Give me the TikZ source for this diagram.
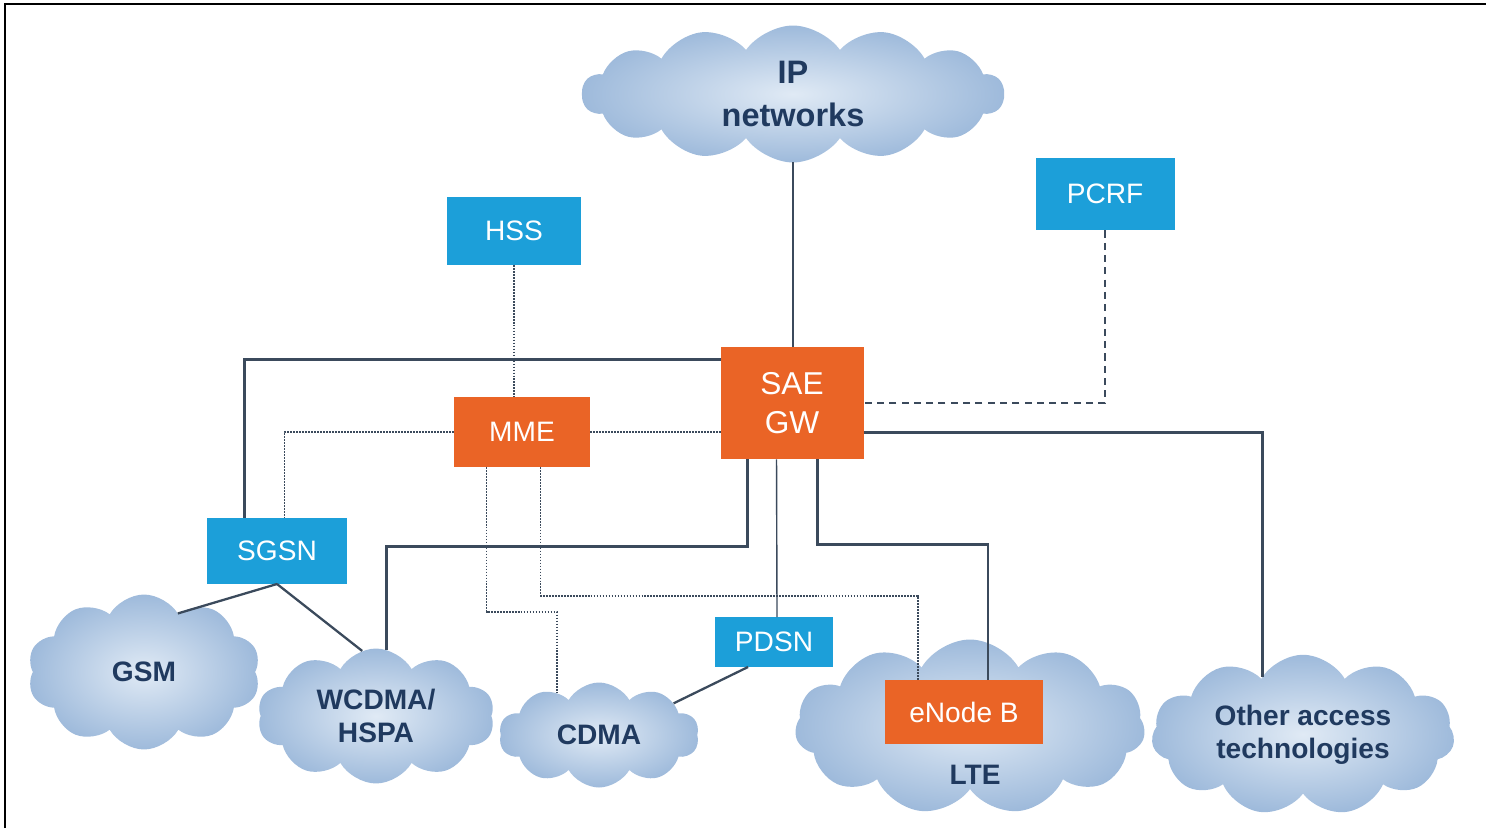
\documentclass[tikz,border=0pt]{standalone}
\usepackage{fontspec}
\setmainfont{Liberation Sans}
\usetikzlibrary{shapes.symbols, calc}
\definecolor{boxblue}{HTML}{1C9FD9}
\definecolor{boxorange}{HTML}{EA6426}
\definecolor{wire}{HTML}{3B4A5C}
\definecolor{cloudtext}{HTML}{203A5F}
\definecolor{cloudin}{HTML}{E0EAF5}
\definecolor{cloudout}{HTML}{9EBADB}
\tikzstyle{server} = [rectangle, fill=boxblue, text=white, inner sep=0pt, outer sep=0pt, font=\fontsize{16}{19}\selectfont]
\tikzstyle{core} = [rectangle, fill=boxorange, text=white, align=center, inner sep=0pt, outer sep=0pt, font=\fontsize{16}{19}\selectfont]
\tikzstyle{access} = [cloud, cloud puffs=10, cloud puff arc=120, inner color=cloudin, outer color=cloudout, text=cloudtext, align=center, inner sep=0pt, outer sep=0pt, font=\bfseries\fontsize{16}{19}\selectfont]
\tikzstyle{link} = [draw=wire, line width=1.3pt]
\tikzstyle{signal} = [draw=wire, line width=0.9pt, dash pattern=on 1pt off 0.7pt]
\tikzstyle{policy} = [draw=wire, line width=1pt, dash pattern=on 4pt off 3pt]

\begin{document}
\begin{tikzpicture}[x=0.02cm, y=-0.02cm]
\useasboundingbox (0,0) rectangle (1486,828);
\draw [line width=1.7pt] (5,828) -- (5,4) -- (1486,4);

% access networks
\node (ip) [access, cloud puffs=14, cloud puff arc=110, aspect=3.1, minimum width=8.44cm, minimum height=2.74cm, font=\bfseries\fontsize{18.5}{24}\selectfont] at (793,94)
	{IP\\networks};
\node (gsm) [access, aspect=1.5, minimum width=4.66cm, minimum height=3.1cm] at (144,672)
	{GSM};
\node (wcdma) [access, aspect=1.75, minimum width=4.74cm, minimum height=2.7cm] at (376,716)
	{WCDMA/\\HSPA};
\node (cdma) [access, aspect=1.9, minimum width=4cm, minimum height=2.1cm] at (599,735)
	{CDMA};
\node (lte) [access, cloud puffs=11, aspect=2, minimum width=7cm, minimum height=3.5cm] at (970,727)
	{};
\node (ltetext) [text=cloudtext, font=\bfseries\fontsize{16}{19}\selectfont] at (975,775)
	{LTE};
\node (other) [access, cloud puffs=11, aspect=2, minimum width=6.06cm, minimum height=3cm] at (1303,735)
	{Other access\\technologies};

% network elements
\node (hss) [server, minimum width=2.7cm, minimum height=1.36cm] at (514,231)
	{HSS};
\node (pcrf) [server, minimum width=2.78cm, minimum height=1.46cm] at (1105,194)
	{PCRF};
\node (sae) [core, minimum width=2.86cm, minimum height=2.26cm, font=\fontsize{18}{22.5}\selectfont] at (792,403)
	{SAE\\GW};
\node (mme) [core, minimum width=2.74cm, minimum height=1.4cm] at (522,432)
	{MME};
\node (sgsn) [server, minimum width=2.82cm, minimum height=1.32cm] at (277,551)
	{SGSN};
\node (pdsn) [server, minimum width=2.36cm, minimum height=1cm] at (774,642)
	{PDSN};
\node (enb) [core, minimum width=3.16cm, minimum height=1.28cm] at (964,712)
	{eNode B};

\draw [link] (ip.south) -- (ip.south |- sae.north);
\draw [signal] (hss.south) -- (hss.south |- mme.north);
\draw [policy] (pcrf.south) |- (sae.east);
\draw [link] ($(sae.north west)+(0,13)$) -| ($(sgsn.north west)+(38,0)$);
\draw [signal] (mme.west) -| ($(sgsn.north west)+(78,0)$);
\draw [signal] (mme.east) -- (mme.east -| sae.west);
\draw [link] ($(sae.north east)+(0,86)$) -| (other.125);
\draw [link] ($(sae.south west)+(27,0)$) -- ++(0,87) -| (wcdma.81);
\draw [link, line width=0.8pt] ($(sae.south west)+(56,0)$) -- ($(pdsn.north west)+(62,0)$);
\draw [link] ($(sae.south west)+(97,0)$) -- ++(0,85) -| ($(enb.north west)+(103,0)$);
\draw [signal] ($(mme.south west)+(33,0)$) -- ++(0,145) -| (cdma.135);
\draw [signal] ($(mme.south west)+(87,0)$) -- ++(0,129) -| ($(enb.north west)+(33,0)$);
\draw [link] (sgsn.south) -- (gsm.60);
\draw [link] (sgsn.south) -- (wcdma.102);
\draw [link] ($(pdsn.south west)+(33,0)$) -- (cdma.23);

\end{tikzpicture}
\end{document}
